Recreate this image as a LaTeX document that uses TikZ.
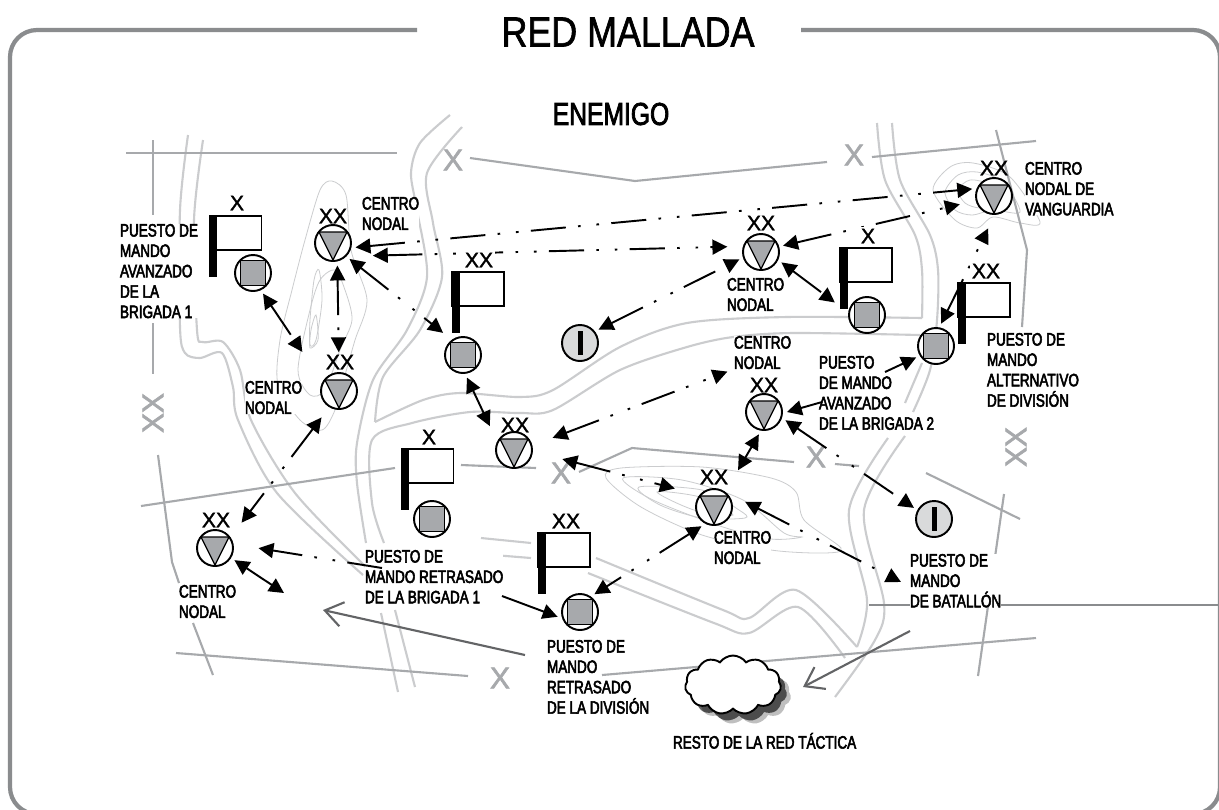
\documentclass[tikz,border=0pt]{standalone}
\usepackage{fontspec}
\setmainfont{Liberation Sans}
\newfontfamily\etiqueta[FakeStretch=0.755,FakeBold=3]{Liberation Sans}
\newfontfamily\titulo[FakeStretch=0.85,FakeBold=1.5]{Liberation Sans}
\newfontfamily\subtitulo[FakeStretch=0.78,FakeBold=2.5]{Liberation Sans}
\newfontfamily\sigla[FakeBold=1.5]{Liberation Sans}
\newfontfamily\siglagris[FakeBold=2]{Liberation Sans}
\usetikzlibrary{arrows.meta,shapes.symbols,shadows}

\definecolor{gristrazo}{HTML}{A7A9AC}
\definecolor{grismarco}{HTML}{8A8C8E}
\definecolor{grisrio}{HTML}{CBCCCE}
\definecolor{grisoscuro}{HTML}{636466}
\definecolor{grisclaro}{HTML}{D9DADB}

\tikzset{
  marco/.style={draw=grismarco,line width=2.4pt,rounded corners=.54cm},
  rejilla/.style={draw=gristrazo,line width=1.2pt},
  rio/.style={draw=grisrio,line width=1.2pt},
  curva/.style={draw=grisrio,line width=.45pt},
  texto/.style={font=\etiqueta\fontsize{10.2}{11.6}\selectfont,align=left,anchor=north west,inner sep=0pt,fill=white,outer sep=0pt},
  letra/.style={font=\sigla\fontsize{12}{12}\selectfont,inner sep=1pt,fill=white},
  letragris/.style={font=\siglagris\fontsize{17}{17}\selectfont,text=gristrazo,inner sep=0pt},
  simbolo/.style={circle,draw,fill=white,line width=1.1pt,minimum size=.72cm,inner sep=0pt,outer sep=2.8pt},
  centro/.style={simbolo,path picture={
    \draw[fill=gristrazo,line width=.7pt] (-.28cm,.22cm) -- (.28cm,.22cm) -- (0,-.34cm) -- cycle;}},
  puesto/.style={simbolo,path picture={
    \draw[fill=gristrazo,line width=.7pt] (-.25cm,-.25cm) rectangle (.25cm,.25cm);}},
  batallon/.style={simbolo,fill=grisclaro,path picture={
    \fill[black] (-.05cm,-.24cm) rectangle (.05cm,.24cm);}},
  bandera/.style={draw,fill=white,line width=.9pt,minimum width=1.04cm,minimum height=.68cm,inner sep=0pt},
  asta/.style={fill=black,anchor=north west,minimum width=.16cm,minimum height=1.22cm,inner sep=0pt},
  enlace/.style={draw,{Triangle[length=8.5pt,width=8.5pt]}-{Triangle[length=8.5pt,width=8.5pt]},line width=1.1pt,
    dash pattern=on 20pt off 7pt on 1.5pt off 9pt on 1.5pt off 7pt},
  directo/.style={draw,{Triangle[length=8.5pt,width=8.5pt]}-{Triangle[length=8.5pt,width=8.5pt]},line width=1.1pt},
  tramo/.style={draw,-{Triangle[length=8.5pt,width=8.5pt]},line width=1.1pt},
  tramopunto/.style={tramo,dash pattern=on 20pt off 7pt on 1.5pt off 9pt on 1.5pt off 7pt},
  abierta/.style={draw=grisoscuro,line width=1.2pt,-{Straight Barb[length=10pt,width=14pt]}},
}

\begin{document}
\begin{tikzpicture}[x=.02cm,y=-.02cm]
  \path[use as bounding box,clip] (0,0) rectangle (1219,809);
  \fill[white] (0,0) rectangle (1219,809);

  % marco
  \draw[marco] (417,30) -- (10,30) -- (10,814) -- (100,814);
  \draw[marco] (801,30) -- (1220,30) -- (1220,814) -- (1100,814);
  \node[font=\titulo\fontsize{24}{24}\selectfont,inner sep=0pt] (titulo) at (628,32) {RED MALLADA};
  \node[font=\subtitulo\fontsize{18}{18}\selectfont,inner sep=0pt] (enemigo) at (611,114) {ENEMIGO};

  % rios
  \draw[rio] plot[smooth] coordinates {(188,135) (180,210) (180,327) (185,353) (200,358) (222,353) (233,387) (238,420) (277,493) (363,575)};
  \draw[rio] (381,613) -- (398,692);
  \draw[rio] plot[smooth] coordinates {(203,140) (194,220) (197,330) (203,342) (223,342) (240,370) (251,420) (295,493) (366,567)};
  \draw[rio] (395,610) -- (415,687);
  \draw[rio] plot[smooth] coordinates {(450,115) (420,143) (411,173) (417,210) (427,277) (407,330) (373,380) (357,443) (357,483) (366,543)};
  \draw[rio] plot[smooth] coordinates {(462,127) (427,173) (433,223) (442,277) (420,330) (383,377) (375,422)};
  \draw[rio] plot[smooth] coordinates {(375,422) (423,400) (460,393) (520,397) (553,390) (620,347) (687,323) (787,317) (922,318)};
  \draw[rio] plot[smooth] coordinates {(384,543) (372,503) (372,440) (412,423) (470,412) (520,413) (553,410) (620,370) (687,347) (733,337) (793,333) (920,335)};
  \draw[rio] plot[smooth] coordinates {(877,123) (885,180) (915,235) (922,270) (922,318)};
  \draw[rio] plot[smooth] coordinates {(892,123) (900,180) (930,235) (938,270) (937,320) (930,370) (913,412)};
  \draw[rio] plot[smooth] coordinates {(905,436) (864,510) (884,603) (875,640) (835,697)};
  \draw[rio] (922,363) -- (905,403);
  \draw[rio] plot[smooth] coordinates {(888,438) (849,510) (867,600) (857,647)};
  \draw[rio] plot[smooth] coordinates {(596,558) (723,610) (749,618) (796,590) (857,647)};
  \draw[rio] plot[smooth] coordinates {(588,573) (714,623) (749,633) (798,607) (845,658)};
  \draw[rio] (481,538) -- (531,543);
  \draw[rio] (481,554) -- (531,558);

  % curvas de nivel
  \draw[curva] plot[smooth cycle] coordinates {(332,181) (346,195) (351,250) (367,300) (355,340) (345,375) (335,410) (322,430) (300,420) (278,385) (280,340) (292,290) (305,240) (320,190)};
  \draw[curva] plot[smooth cycle] coordinates {(335,270) (345,290) (352,320) (340,350) (325,390) (310,395) (298,370) (310,310) (320,280)};
  \draw[curva] plot[smooth cycle] coordinates {(319,270) (322,300) (316,340) (310,345) (310,320) (314,280)};
  \draw[curva] plot[smooth cycle] coordinates {(316,315) (318,340) (310,348) (311,330)};
  \draw[curva] plot[smooth cycle] coordinates {(606,478) (621,468) (702,467) (771,478) (796,492) (804,520) (841,548) (824,553) (771,550) (702,535) (641,507)};
  \draw[curva] plot[smooth cycle] coordinates {(623,478) (682,480) (743,500) (784,533) (802,537) (771,539) (723,527) (653,500)};
  \draw[curva] plot[smooth cycle] coordinates {(639,487) (702,490) (739,510) (745,518) (702,518) (660,505)};
  \draw[curva] plot[smooth cycle] coordinates {(657,492) (700,497) (733,515) (694,510)};
  \draw[curva] plot[smooth cycle] coordinates {(933,190) (950,167) (973,163) (1010,177) (1040,222) (1020,223) (993,217) (977,228) (955,220)};
  \draw[curva] plot[smooth cycle] coordinates {(945,192) (958,175) (977,172) (1003,182) (1020,212) (993,210) (972,215) (955,210)};
  \draw[curva] plot[smooth cycle] coordinates {(958,190) (970,180) (990,185) (1003,205) (980,208) (965,203)};

  % rejilla
  \draw[rejilla] (126,153) -- (397,153);
  \draw[rejilla] (153,140) -- (153,215);
  \draw[rejilla] (153,323) -- (153,374);
  \draw[rejilla] (158,455) -- (172,562) -- (179,583);
  \draw[rejilla] (193,623) -- (213,675);
  \draw[rejilla] (470,158) -- (635,181) -- (827,162);
  \draw[rejilla] (872,157) -- (1036,141);
  \draw[rejilla] (996,130) -- (1027,250) -- (1022,327);
  \draw[rejilla] (141,506) -- (395,468);
  \draw[rejilla] (461,465) -- (536,468);
  \draw[rejilla] (579,472) -- (632,448) -- (794,462);
  \draw[rejilla] (835,464) -- (859,466);
  \draw[rejilla] (926,473) -- (1020,519);
  \draw[rejilla] (1004,494) -- (978,676);
  \draw[rejilla] (1036,638) -- (602,675);
  \draw[rejilla] (176,653) -- (468,676);
  \node[letragris] (xa) at (453,160) {X};
  \node[letragris] (xb) at (854,155) {X};
  \node[letragris] (xc) at (561,473) {X};
  \node[letragris] (xd) at (816,457) {X};
  \node[letragris] (xe) at (500,678) {X};
  \node[letragris,rotate=90] (xf) at (153,413) {XX};
  \node[letragris,rotate=90] (xg) at (1016,447) {XX};

  \draw[draw=grismarco,line width=.8pt] (869,605) -- (1219,605);
  \coordinate (finoeste) at (323,610);
  \coordinate (fineste) at (525,655);
  \coordinate (finsur) at (803,687);
  \coordinate (finnorte) at (910,631);
  \draw[abierta] (fineste) -- (finoeste);
  \draw[abierta] (finnorte) -- (finsur);

  % textos
  \node[texto] (ta) at (120,224) {PUESTO DE\\MANDO\\AVANZADO\\DE LA\\BRIGADA 1};
  \node[texto] (tb) at (362,197) {CENTRO\\NODAL};
  \node[texto] (tc) at (245,381) {CENTRO\\NODAL};
  \node[texto] (td) at (727,278) {CENTRO\\NODAL};
  \node[texto] (te) at (734,336) {CENTRO\\NODAL};
  \node[texto,fill=none] (tf) at (819,356) {PUESTO\\DE MANDO\\AVANZADO\\DE LA BRIGADA 2};
  \node[texto] (tg) at (987,333) {PUESTO DE\\MANDO\\ALTERNATIVO\\DE DIVISIÓN};
  \node[texto] (th) at (1025,162) {CENTRO\\NODAL DE\\VANGUARDIA};
  \node[texto] (ti) at (365,550) {PUESTO DE\\MANDO RETRASADO\\DE LA BRIGADA 1};
  \node[texto] (tj) at (179,585) {CENTRO\\NODAL};
  \node[texto,fill=none] (tk) at (547,640) {PUESTO DE\\MANDO\\RETRASADO\\DE LA DIVISIÓN};
  \node[texto] (tl) at (714,531) {CENTRO\\NODAL};
  \node[texto] (tm) at (910,554) {PUESTO DE\\MANDO\\DE BATALLÓN};
  \node[texto] (tn) at (673,733) {RESTO DE LA RED TÁCTICA};

  \node[cloud,cloud puffs=11,cloud puff arc=110,aspect=1.6,draw,fill=white,line width=1.1pt,minimum width=1.92cm,minimum height=1.18cm,inner sep=0pt,
    drop shadow={shadow xshift=.2cm,shadow yshift=-.2cm,opacity=.25,fill=black},
    drop shadow={shadow xshift=.12cm,shadow yshift=-.14cm,opacity=.6,fill=black}] (nube) at (733,685) {};

  % simbolos
  \node[centro] (cuno) at (333,243) {};
  \node[centro] (cdos) at (339,391) {};
  \node[centro] (cmedio) at (761,252) {};
  \node[centro] (cvan) at (994,196) {};
  \node[centro] (cder) at (764,412) {};
  \node[centro] (cizq) at (514,450) {};
  \node[centro] (clej) at (215,548) {};
  \node[centro] (cbajo) at (714,507) {};
  \node[puesto] (pbrig) at (253,273) {};
  \node[puesto] (pdiv) at (463,355) {};
  \node[puesto] (pav) at (867,315) {};
  \node[puesto] (palt) at (936,346) {};
  \node[puesto] (pret) at (432,519) {};
  \node[puesto] (prdiv) at (580,612) {};
  \node[batallon] (iuno) at (580,343) {};
  \node[batallon] (idos) at (934,519) {};

  % enlaces
  \coordinate (libre) at (284,593);
  \coordinate (libreb) at (901,582);
  \coordinate (mandoa) at (382,568);
  \coordinate (mandob) at (502,596);
  \coordinate (brigua) at (822,402);
  \coordinate (briguab) at (885,372);
  \draw[enlace] (cuno.-11) -- (cvan.162);
  \draw[enlace,shorten <=12pt,shorten >=6.5pt] (cuno.-35) -- (cmedio.166);
  \draw[enlace,shorten >=7pt] (cmedio.16) -- (cvan.194);
  \draw[enlace,shorten >=7pt] (cmedio.-27) -- (pav.167);
  \draw[enlace] (iuno.36) -- (cmedio.199);
  \draw[enlace,shorten >=18pt] (pbrig.-64) -- (cdos.146);
  \draw[enlace,shorten >=9pt] (cuno.-79) -- (cdos.90);
  \draw[enlace,shorten >=4pt] (cuno.-44) -- (pdiv.129);
  \draw[directo,shorten >=7pt] (pdiv.-80) -- (cizq.146);
  \draw[enlace,shorten <=5pt,shorten >=8pt] (cdos.-122) -- (clej.38);
  \draw[enlace,shorten <=10pt,shorten >=4pt] (cizq.15) -- (te.south west);
  \draw[tramopunto,shorten >=12pt] (mandoa) -- (clej.8);
  \draw[tramo] (mandob) -- (prdiv.192);
  \draw[directo] (clej.-32) -- (libre);
  \draw[enlace,shorten <=15pt,shorten >=12pt] (cizq.-6) -- (cbajo.145);
  \draw[directo,shorten >=12pt] (cder.-103) -- (cbajo.54);
  \draw[enlace] (cder.-21) -- (idos.151);
  \draw[tramo] (brigua) -- (cder.0);
  \draw[tramo] (briguab) -- (palt.210);
  \draw[enlace,shorten >=6pt] (palt.77) -- (cvan.-93);
  \draw[enlace] (cbajo.-123) -- (prdiv.51);
  \draw[enlace,shorten <=7pt] (cbajo.28) -- (libreb);

  % banderas
  \node[bandera] (fa) at (235.5,233) {};
  \node[asta] (afa) at (fa.north west) {};
  \node[letra] (lfa) at (237,203) {X};
  \node[bandera] (fb) at (478,289) {};
  \node[asta] (afb) at (fb.north west) {};
  \node[letra] (lfb) at (479,260) {XX};
  \node[bandera] (fc) at (866,265) {};
  \node[asta] (afc) at (fc.north west) {};
  \node[letra] (lfc) at (868,236) {X};
  \node[bandera] (fd) at (984,300) {};
  \node[asta] (afd) at (fd.north west) {};
  \node[letra] (lfd) at (986,271) {XX};
  \node[bandera] (fe) at (427.5,466) {};
  \node[asta] (afe) at (fe.north west) {};
  \node[letra] (lfe) at (429,437) {X};
  \node[bandera] (ff) at (564,550) {};
  \node[asta] (aff) at (ff.north west) {};
  \node[letra] (lff) at (566,521) {XX};

  % letras de centros
  \node[letra,fill=none] (la) at (333,216) {XX};
  \node[letra,fill=none] (lb) at (340,362) {XX};
  \node[letra,fill=none] (lc) at (761,223) {XX};
  \node[letra,fill=none] (ld) at (994,168) {XX};
  \node[letra,fill=none] (le) at (764,385) {XX};
  \node[letra,fill=none] (lf) at (515,425) {XX};
  \node[letra,fill=none] (lg) at (216,520) {XX};
  \node[letra,fill=none] (lh) at (714,477) {XX};
\end{tikzpicture}
\end{document}
